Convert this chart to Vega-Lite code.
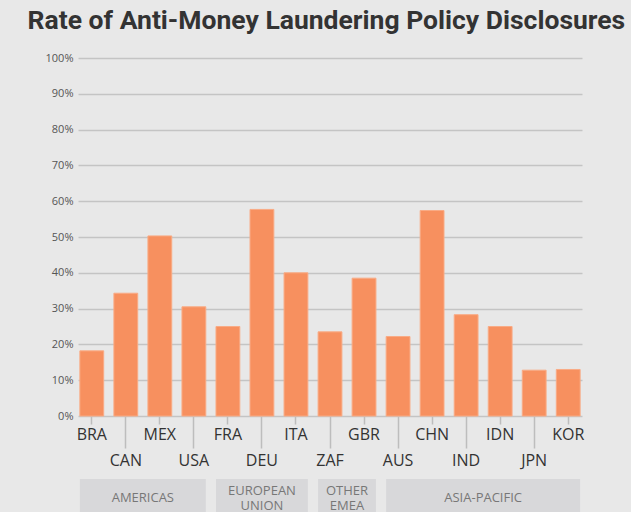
{
  "$schema": "https://vega.github.io/schema/vega-lite/v6.json",
  "background": "#e8e8e8",
  "padding": {"left": 27, "top": 8, "right": 5, "bottom": 0},
  "title": {
    "text": "Rate of Anti-Money Laundering Policy Disclosures",
    "font": "Roboto",
    "fontSize": 26.5,
    "fontWeight": "bold",
    "color": "#333333",
    "anchor": "middle",
    "dx": 12,
    "offset": 17.5
  },
  "config": {
    "view": {"stroke": null},
    "font": "Open Sans"
  },
  "spacing": 11,
  "datasets": {
    "countries": [
      {"country": "BRA", "region": "AMERICAS", "rate": 18.2},
      {"country": "CAN", "region": "AMERICAS", "rate": 34.3},
      {"country": "MEX", "region": "AMERICAS", "rate": 50.3},
      {"country": "USA", "region": "AMERICAS", "rate": 30.5},
      {"country": "FRA", "region": "EUROPEAN UNION", "rate": 25.0},
      {"country": "DEU", "region": "EUROPEAN UNION", "rate": 57.7},
      {"country": "ITA", "region": "EUROPEAN UNION", "rate": 40.0},
      {"country": "ZAF", "region": "OTHER EMEA", "rate": 23.5},
      {"country": "GBR", "region": "OTHER EMEA", "rate": 38.5},
      {"country": "AUS", "region": "ASIA-PACIFIC", "rate": 22.2},
      {"country": "CHN", "region": "ASIA-PACIFIC", "rate": 57.4},
      {"country": "IND", "region": "ASIA-PACIFIC", "rate": 28.3},
      {"country": "IDN", "region": "ASIA-PACIFIC", "rate": 25.0},
      {"country": "JPN", "region": "ASIA-PACIFIC", "rate": 12.8},
      {"country": "KOR", "region": "ASIA-PACIFIC", "rate": 13.0}
    ],
    "regions": [
      {"region": "AMERICAS", "label": ["AMERICAS"], "first": "BRA", "last": "USA", "middle": "CAN"},
      {"region": "EUROPEAN UNION", "label": ["EUROPEAN", "UNION"], "first": "FRA", "last": "ITA", "middle": "DEU"},
      {"region": "OTHER EMEA", "label": ["OTHER", "EMEA"], "first": "ZAF", "last": "GBR", "middle": "ZAF"},
      {"region": "ASIA-PACIFIC", "label": ["ASIA-PACIFIC"], "first": "AUS", "last": "KOR", "middle": "IND"}
    ]
  },
  "resolve": {"scale": {"x": "shared"}},
  "vconcat": [
    {
      "width": 504,
      "height": 358,
      "data": {"name": "countries"},
      "mark": {"type": "bar", "color": "#f7905f", "stroke": "#f9ab85", "strokeWidth": 1},
      "encoding": {
        "x": {
          "field": "country",
          "type": "nominal",
          "sort": null,
          "scale": {
            "domain": ["BRA","CAN","MEX","USA","FRA","DEU","ITA","ZAF","GBR","AUS","CHN","IND","IDN","JPN","KOR"],
            "paddingInner": 0.3,
            "paddingOuter": 0.055
          },
          "axis": {
            "title": null,
            "labelAngle": 0,
            "domain": false,
            "labelFont": "Open Sans",
            "labelFontSize": 16,
            "labelColor": "#333333",
            "labelOverlap": false,
            "labelBound": false,
            "labelFlush": false,
            "tickColor": "#bdbdbd",
            "tickWidth": 1.5,
            "tickSize": {
              "condition": {"test": "indexof(['CAN','USA','DEU','ZAF','AUS','IND','JPN'], datum.value) >= 0", "value": 32},
              "value": 8
            },
            "labelPadding": {
              "condition": {"test": "indexof(['CAN','USA','DEU','ZAF','AUS','IND','JPN'], datum.value) >= 0", "value": 4},
              "value": 2
            }
          }
        },
        "y": {
          "field": "rate",
          "type": "quantitative",
          "scale": {"domain": [0, 100]},
          "axis": {
            "title": null,
            "values": [0,10,20,30,40,50,60,70,80,90,100],
            "labelExpr": "datum.value + '%'",
            "domain": false,
            "ticks": false,
            "labelFont": "Open Sans",
            "labelFontSize": 11,
            "labelColor": "#555555",
            "labelPadding": 5,
            "gridColor": "#c4c4c4",
            "gridWidth": 1.5
          }
        }
      }
    },
    {
      "width": 504,
      "height": 38,
      "data": {"name": "regions"},
      "layer": [
        {
          "mark": {"type": "rect", "color": "#d8d8da"},
          "encoding": {
            "x": {"field": "first", "type": "nominal", "bandPosition": 0, "axis": null},
            "x2": {"field": "last", "bandPosition": 1}
          }
        },
        {
          "transform": [{"filter": "datum.region == 'AMERICAS' || datum.region == 'ASIA-PACIFIC'"}],
          "mark": {"type": "text", "color": "#777777", "fontSize": 13, "font": "Open Sans", "baseline": "middle", "align": "center", "lineHeight": 15},
          "encoding": {
            "x": {"field": "middle", "type": "nominal", "bandPosition": 1.2143, "axis": null},
            "text": {"field": "label"}
          }
        },
        {
          "transform": [{"filter": "datum.region == 'OTHER EMEA'"}],
          "mark": {"type": "text", "color": "#777777", "fontSize": 13, "font": "Open Sans", "baseline": "middle", "align": "center", "lineHeight": 15, "dy": -7.5},
          "encoding": {
            "x": {"field": "middle", "type": "nominal", "bandPosition": 1.2143, "axis": null},
            "text": {"field": "label"}
          }
        },
        {
          "transform": [{"filter": "datum.region == 'EUROPEAN UNION'"}],
          "mark": {"type": "text", "color": "#777777", "fontSize": 13, "font": "Open Sans", "baseline": "middle", "align": "center", "lineHeight": 15, "dy": -7.5},
          "encoding": {
            "x": {"field": "middle", "type": "nominal", "bandPosition": 0.5, "axis": null},
            "text": {"field": "label"}
          }
        }
      ]
    }
  ]
}
